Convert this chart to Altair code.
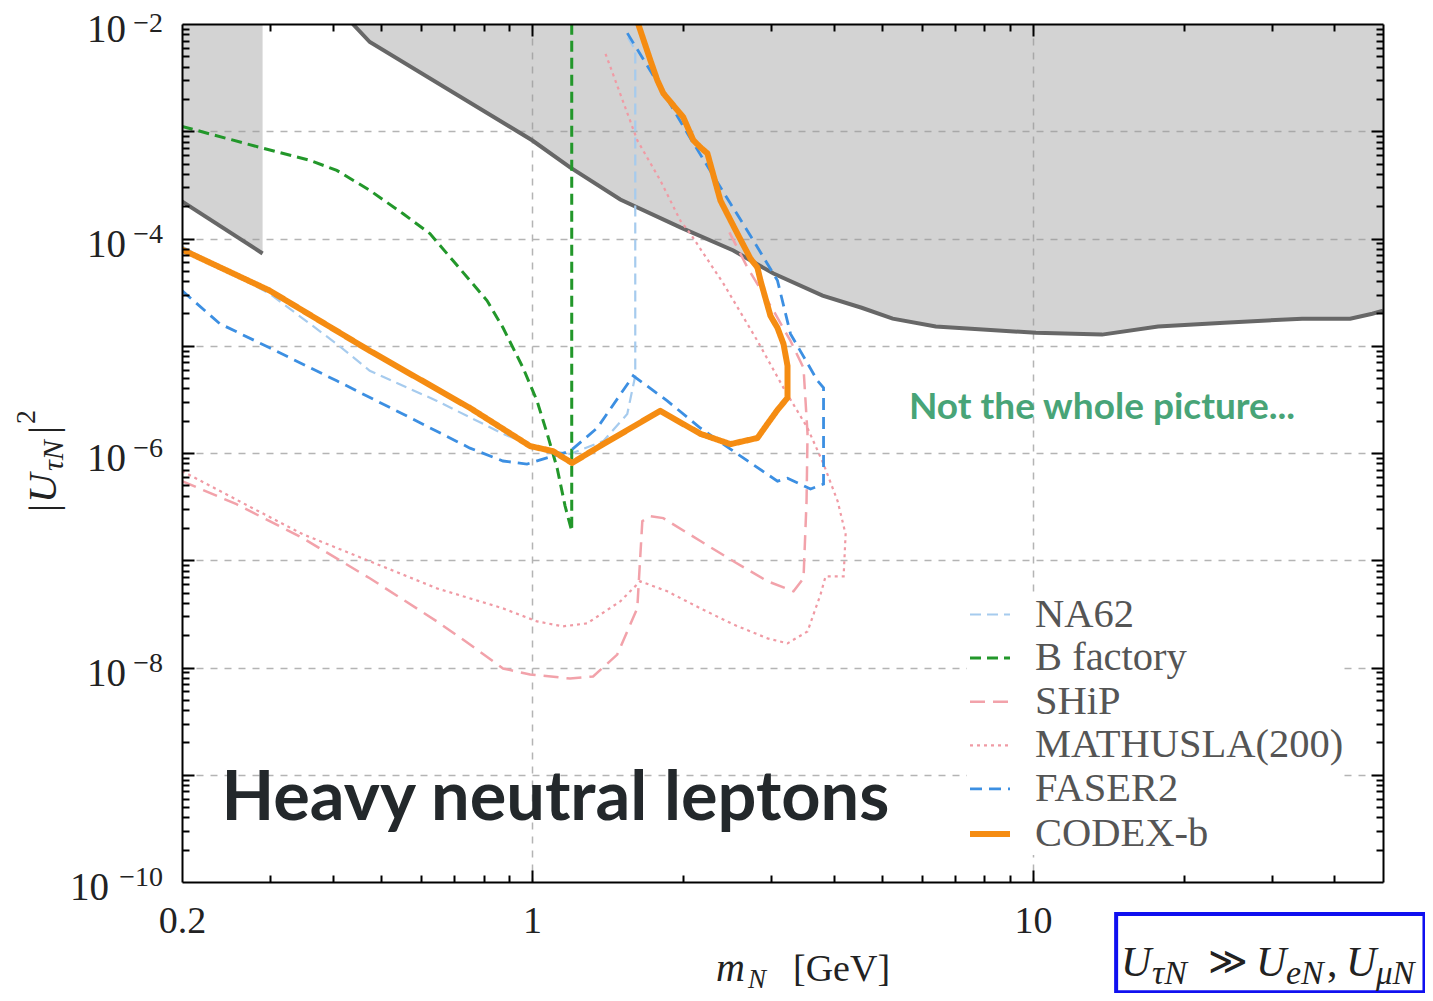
import altair as alt
import pandas as pd

# ---------------- data ----------------
series_names = ["NA62", "B factory", "SHiP", "MATHUSLA(200)", "FASER2", "CODEX-b"]
series_colors = ["#a6cbee", "#22972a", "#f2a2aa", "#f09aa4", "#3c8fe2", "#f58c12"]
series_dash = [[11, 6], [11, 6], [15, 8], [3, 4], [12, 7], [1, 0]]
series_width = [2.2, 3.0, 2.5, 2.2, 2.8, 6.0]

na62_x = [0.2, 0.2992, 0.4074, 0.4742, 0.6457, 0.875, 1.023, 1.101, 1.191, 1.387, 1.549, 1.607, 1.607, 1.535]
na62_y = [8.41e-5, 3.06e-5, 1.04e-5, 5.84e-6, 3.06e-6, 1.51e-6, 1.11e-6, 1.04e-6, 9.79e-7, 1.29e-6, 2.31e-6,
          5.25e-6, 5.72e-3, 8.24e-3]

bfac_x = [0.2, 0.2858, 0.3597, 0.4074, 0.4742, 0.552, 0.6252, 0.695, 0.8128, 0.875, 0.9594, 1.023, 1.072,
          1.122, 1.164, 1.2, 1.2]
bfac_y = [1.11e-3, 7.08e-4, 5.36e-4, 4.32e-4, 2.81e-4, 1.71e-4, 1.11e-4, 6.23e-5, 2.64e-5, 1.47e-5, 6.22e-6,
          3.06e-6, 1.51e-6, 7.24e-7, 3.2e-7, 1.87e-7, 1e-2]

ship_x = [0.2, 0.257, 0.3483, 0.4742, 0.6457, 0.7516, 0.875, 0.991, 1.191, 1.324, 1.479, 1.622, 1.66, 1.722,
          1.828, 2.168, 2.523, 2.951, 3.327, 3.483, 3.532, 3.548, 3.483, 3.281, 3.034, 2.692, 2.466]
ship_y = [5.47e-7, 3.33e-7, 1.61e-7, 6.79e-8, 2.69e-8, 1.64e-8, 9.79e-9, 8.61e-9, 7.89e-9, 8.24e-9, 1.32e-8,
          3.56e-8, 2.31e-7, 2.58e-7, 2.47e-7, 1.51e-7, 9.79e-8, 6.37e-8, 5.13e-8, 6.79e-8, 3.56e-7, 1.51e-6,
          6.22e-6, 1.11e-5, 2.12e-5, 5.36e-5, 1.19e-4]

math_x = [0.2, 0.2767, 0.3483, 0.4742, 0.6457, 0.875, 1.023, 1.153, 1.288, 1.5, 1.644, 1.862, 2.168, 2.523,
          2.951, 3.236, 3.548, 3.767, 3.855, 4.188, 4.227, 4.074, 3.819, 3.548, 3.177, 2.818, 2.410, 2.070,
          1.977, 1.803, 1.622, 1.400]
math_y = [6.79e-7, 3.06e-7, 1.75e-7, 9.79e-8, 5.47e-8, 3.56e-8, 2.69e-8, 2.42e-8, 2.58e-8, 4.14e-8, 6.37e-8,
          5.13e-8, 3.56e-8, 2.52e-8, 1.87e-8, 1.68e-8, 2.17e-8, 4.81e-8, 7.08e-8, 7.08e-8, 1.75e-7, 3.56e-7,
          7.89e-7, 1.71e-6, 4.05e-6, 1.11e-5, 3.8e-5, 1.11e-4, 1.47e-4, 3.48e-4, 8.24e-4, 5.36e-3]

faser_x = [0.2, 0.2377, 0.2992, 0.4074, 0.552, 0.7516, 0.875, 0.977, 1.101, 1.191, 1.349, 1.592, 1.862, 2.168,
           2.523, 3.09, 3.236, 3.597, 3.819, 3.819, 3.715, 3.281, 3.09, 2.767, 2.377, 2.042, 1.803, 1.549]
faser_y = [3.27e-5, 1.61e-5, 9.57e-6, 4.71e-6, 2.31e-6, 1.11e-6, 8.42e-7, 7.89e-7, 9.37e-7, 1.04e-6, 1.71e-6,
           5.25e-6, 3.06e-6, 1.71e-6, 1.04e-6, 5.47e-7, 5.83e-7, 4.61e-7, 5.13e-7, 4.05e-6, 4.71e-6, 1.29e-5,
           4.05e-5, 9.57e-5, 3.0e-4, 9.57e-4, 2.58e-3, 8.24e-3]

codex_x = [0.2, 0.2992, 0.4742, 0.7516, 0.991, 1.101, 1.202, 1.387, 1.803, 2.168, 2.489, 2.818, 2.951, 3.09,
           3.236, 3.236, 3.177, 3.09, 2.992, 2.858, 2.818, 2.729, 2.57, 2.377, 2.239, 2.168, 2.099, 2.004,
           1.828, 1.778, 1.722, 1.629]
codex_y = [7.89e-5, 3.27e-5, 8.97e-6, 2.63e-6, 1.16e-6, 1.04e-6, 8.07e-7, 1.21e-6, 2.47e-6, 1.51e-6, 1.21e-6,
           1.38e-6, 1.87e-6, 2.52e-6, 3.27e-6, 6.5e-6, 1.04e-5, 1.47e-5, 1.9e-5, 4.05e-5, 5.36e-5, 6.5e-5,
           1.11e-4, 2.26e-4, 6.22e-4, 7.08e-4, 8.24e-4, 1.35e-3, 2.26e-3, 3.0e-3, 4.61e-3, 1e-2]

# excluded (grey) regions: lower boundary, filled up to the top of the plot
excl_x = [0.4385, 0.4742, 1.0, 1.191, 1.5, 1.977, 2.523, 3.034, 3.802, 4.55, 5.248, 6.397, 10.14, 13.74,
          17.78, 24.1, 34.5, 43.0, 47.6, 50.0]
excl_y = [1e-2, 6.79e-3, 8.24e-4, 4.61e-4, 2.31e-4, 1.27e-4, 7.73e-5, 4.71e-5, 2.93e-5, 2.26e-5, 1.79e-5,
          1.51e-5, 1.32e-5, 1.27e-5, 1.51e-5, 1.64e-5, 1.79e-5, 1.79e-5, 1.99e-5, 2.12e-5]
strip_x = [0.2, 0.2897]
strip_y = [2.22e-4, 7.25e-5]
excl_top = 1e-2

# axes: tick values and labels
x_domain = [0.2, 50]
y_domain = [1e-10, 1e-2]
x_label_values = [0.2, 1, 10]
x_label_texts = ["0.2", "1", "10"]
y_label_values = [1e-10, 1e-8, 1e-6, 1e-4, 1e-2]
y_label_bases = ["10", "10", "10", "10", "10"]
y_label_exps = ["−10", "−8", "−6", "−4", "−2"]
x_grid_values = [1, 10]
y_grid_values = [1e-9, 1e-8, 1e-7, 1e-6, 1e-5, 1e-4, 1e-3]
x_major_ticks = [1, 10]
x_minor_ticks = [0.3, 0.4, 0.5, 0.6, 0.7, 0.8, 0.9, 2, 3, 4, 5, 6, 7, 8, 9, 20, 30, 40]
y_major_ticks = [1e-9, 1e-8, 1e-7, 1e-6, 1e-5, 1e-4, 1e-3]
y_minor_ticks = [m * 10.0 ** k for k in range(-10, -2) for m in range(2, 10)]

# in-plot annotations (data coordinates)
note1_text, note1_x, note1_y = ["Not the whole picture..."], [13.74], [2.64e-6]
note2_text, note2_x, note2_y = ["Heavy neutral leptons"], [0.2399], [3.79e-10]
box_x, box_x2, box_y, box_y2 = [14.66], [60.5], [5.02e-11], [9.37e-12]

# ---------------- chart ----------------
X0, Y0 = 182, 24  # page position of the plot origin (layout)
SERIF = "Liberation Serif"

xs = alt.Scale(type="log", domain=x_domain, nice=False)
ys = alt.Scale(type="log", domain=y_domain, nice=False)


def label_expr(values, texts):
    parts = [f"abs(datum.value / {v} - 1) < 0.01 ? '{t}'" for v, t in zip(values, texts)]
    return " : ".join(parts) + " : ''"


rows = []
for name, sx, sy in [("NA62", na62_x, na62_y), ("B factory", bfac_x, bfac_y), ("SHiP", ship_x, ship_y),
                     ("MATHUSLA(200)", math_x, math_y), ("FASER2", faser_x, faser_y),
                     ("CODEX-b", codex_x, codex_y)]:
    for i, (a, b) in enumerate(zip(sx, sy)):
        rows.append({"series": name, "x": a, "y": b, "idx": i})
lines_df = pd.DataFrame(rows)

leg = alt.Legend(title=None, orient="none", legendX=785, legendY=569, symbolType="stroke", symbolSize=1600,
                 labelFont=SERIF, labelFontSize=40.5, labelColor="#555555", labelLimit=600, labelOffset=22,
                 rowPadding=1.6, padding=0, fillColor="white")
enc = dict(
    x=alt.X("x:Q", scale=xs, axis=None),
    y=alt.Y("y:Q", scale=ys, axis=None),
    color=alt.Color("series:N", scale=alt.Scale(domain=series_names, range=series_colors), legend=leg),
    strokeDash=alt.StrokeDash("series:N", scale=alt.Scale(domain=series_names, range=series_dash), legend=leg),
    strokeWidth=alt.StrokeWidth("series:N", scale=alt.Scale(type="ordinal", domain=series_names,
                                                            range=series_width), legend=leg),
    order=alt.Order("idx:Q"),
    detail="series:N",
)
others = alt.Chart(lines_df).transform_filter("datum.series != 'CODEX-b'").mark_line(clip=True).encode(**enc)
codex = alt.Chart(lines_df).transform_filter("datum.series == 'CODEX-b'").mark_line(
    clip=True, strokeCap="round", strokeJoin="round").encode(**enc)

excl_df = pd.DataFrame({"x": excl_x, "y": excl_y, "top": excl_top})
strip_df = pd.DataFrame({"x": strip_x, "y": strip_y, "top": excl_top})
ex_enc = dict(x=alt.X("x:Q", scale=xs, axis=None), y=alt.Y("y:Q", scale=ys, axis=None))
areas = []
for d in (excl_df, strip_df):
    areas.append(alt.Chart(d).mark_area(color="#9a9a9a", opacity=0.43, clip=True).encode(y2="top:Q", **ex_enc))
    areas.append(alt.Chart(d).mark_line(color="#676767", strokeWidth=4, clip=True).encode(**ex_enc))

anchor = pd.DataFrame({"x": [1.0], "y": [1e-5]})


def guide(xaxis, yaxis):
    return alt.Chart(anchor).mark_point(opacity=0).encode(
        x=alt.X("x:Q", scale=xs, axis=xaxis), y=alt.Y("y:Q", scale=ys, axis=yaxis))


grid_style = dict(title=None, labels=False, domain=False, ticks=False, grid=True, gridColor="#b4b4b4",
                  gridDash=[7, 7], gridWidth=1.5, zindex=0)
grid_layer = guide(alt.Axis(orient="bottom", values=x_grid_values, **grid_style),
                   alt.Axis(orient="left", values=y_grid_values, **grid_style))

frame = dict(domain=True, domainColor="black", domainWidth=2, ticks=False, tickSize=0, grid=False, title=None,
             zindex=1, labelFont=SERIF, labelColor="#222222", labelFlush=False, labelOverlap=False)
label_layer = guide(
    alt.Axis(orient="bottom", values=x_label_values, labelExpr=label_expr(x_label_values, x_label_texts),
             labelFontSize=38, labelPadding=20, **frame),
    alt.Axis(orient="left", labels=False, **frame))
frame2 = dict(frame, labels=False)
frame_layer = guide(alt.Axis(orient="top", **frame2), alt.Axis(orient="right", **frame2))


def ticks(orx, ory, xv, yv, size):
    st = dict(title=None, labels=False, domain=False, grid=False, ticks=True, tickSize=size, tickWidth=2,
              tickColor="black", offset=-size, zindex=1)
    return guide(alt.Axis(orient=orx, values=xv, **st), alt.Axis(orient=ory, values=yv, **st))


tick_layers = [
    ticks("bottom", "left", x_major_ticks, y_major_ticks, 12),
    ticks("bottom", "left", x_minor_ticks, y_minor_ticks, 7),
    ticks("top", "right", x_major_ticks, y_major_ticks, 12),
    ticks("top", "right", x_minor_ticks, y_minor_ticks, 7),
]

# y tick labels as "10" with a raised exponent
ylab_df = pd.DataFrame({"v": y_label_values, "base": y_label_bases, "exp": y_label_exps})
ylab_enc = dict(y=alt.Y("v:Q", scale=ys, axis=None))
exp_style = dict(font=SERIF, fontSize=28, align="right", baseline="middle", color="#222222")
ylab_layers = [
    alt.Chart(ylab_df).transform_filter("datum.v > 5e-10").mark_text(
        font=SERIF, fontSize=39, align="right", baseline="middle", dy=6, color="#222222"
    ).encode(x=alt.value(126 - X0), text="base:N", **ylab_enc),
    alt.Chart(ylab_df).transform_filter("datum.v < 5e-10").mark_text(
        font=SERIF, fontSize=39, align="right", baseline="middle", dy=6, color="#222222"
    ).encode(x=alt.value(109 - X0), text="base:N", **ylab_enc),
    alt.Chart(ylab_df).transform_filter("datum.v < 5e-3").mark_text(dy=-4, **exp_style).encode(
        x=alt.value(163 - X0), text="exp:N", **ylab_enc),
    alt.Chart(ylab_df).transform_filter("datum.v > 5e-3").mark_text(dy=0, **exp_style).encode(
        x=alt.value(163 - X0), text="exp:N", **ylab_enc),
]

note1 = alt.Chart(pd.DataFrame({"t": note1_text, "x": note1_x, "y": note1_y})).mark_text(
    font="Lato", fontWeight="bold", fontSize=37, color="#48a477", align="center", baseline="middle"
).encode(x=alt.X("x:Q", scale=xs, axis=None), y=alt.Y("y:Q", scale=ys, axis=None), text="t:N")
note2 = alt.Chart(pd.DataFrame({"t": note2_text, "x": note2_x, "y": note2_y})).mark_text(
    font="Lato", fontWeight="bold", fontSize=68.5, color="#23282b", align="left", baseline="alphabetic"
).encode(x=alt.X("x:Q", scale=xs, axis=None), y=alt.Y("y:Q", scale=ys, axis=None), text="t:N")
box = alt.Chart(pd.DataFrame({"x": box_x, "x2": box_x2, "y": box_y, "y2": box_y2})).mark_rect(
    filled=False, stroke="#1010f0", strokeWidth=4
).encode(x=alt.X("x:Q", scale=xs, axis=None), x2="x2:Q", y=alt.Y("y:Q", scale=ys, axis=None), y2="y2:Q")


def piece(t, px, py, size, style="normal", angle=0):
    return alt.Chart(pd.DataFrame({"t": [t]})).mark_text(
        font=SERIF, fontSize=size, fontStyle=style, angle=angle, align="left", baseline="alphabetic",
        color="#222222").encode(x=alt.value(px - X0), y=alt.value(py - Y0), text="t:N")


pieces = [
    # x title  m_N [GeV]
    piece("m", 716, 981, 40, "italic"),
    piece("N", 748, 988, 27, "italic"),
    piece("[GeV]", 793, 981, 38),
    # y title |U_tauN|^2
    piece("|", 56, 512, 41, angle=270),
    piece("U", 56, 503, 41, "italic", angle=270),
    piece("τN", 63, 471, 30, "italic", angle=270),
    piece("|", 56, 434, 41, angle=270),
    piece("2", 35, 424, 28, angle=270),
    # boxed condition
    piece("U", 1121, 976, 42, "italic"),
    piece("τN", 1152, 984, 34, "italic"),
    piece("≫", 1208, 974, 38),
    piece("U", 1256, 976, 42, "italic"),
    piece("eN", 1286, 984, 34, "italic"),
    piece(",", 1327, 976, 42),
    piece("U", 1346, 976, 42, "italic"),
    piece("μN", 1376, 984, 33, "italic"),
]

chart = alt.layer(
    *areas, others, codex, note1, note2, box, *pieces, *ylab_layers,
    grid_layer, label_layer, frame_layer, *tick_layers
).resolve_axis(x="independent", y="independent").properties(
    width=1201, height=858,
    autosize=alt.AutoSizeParams(type="none"),
    padding={"left": 174, "top": 16, "right": 42, "bottom": 111},
    background="white",
).configure_view(stroke=None)

chart.save("out.html", embed_options={"renderer": "svg", "actions": False})
